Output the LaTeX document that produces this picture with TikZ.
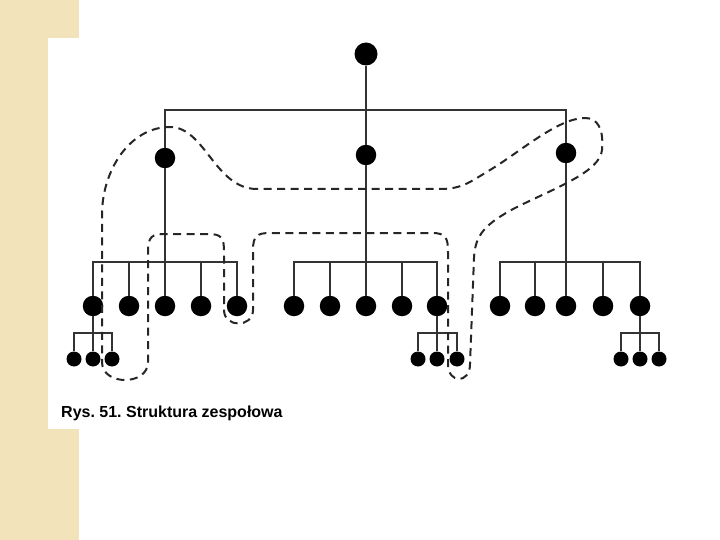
\documentclass[tikz,border=0pt]{standalone}
\usepackage{fontspec}
\setmainfont{Liberation Sans}
\frenchspacing
\begin{document}
\begin{tikzpicture}[x=1pt,y=-1pt,
  bigdot/.style={circle,fill=black,inner sep=0pt,minimum size=23pt},
  middot/.style={circle,fill=black,inner sep=0pt,minimum size=20.5pt},
  smalldot/.style={circle,fill=black,inner sep=0pt,minimum size=15pt},
  tree/.style={draw=black!80,line width=1.9pt},
  snake/.style={draw=black!85,line width=2pt,dash pattern=on 8pt off 5.5pt}]
\useasboundingbox (0,0) rectangle (720,540);
% background strip
\fill[color={rgb,255:red,243;green,227;blue,186}] (0,0) rectangle (79,540);
\fill[white] (48,38) rectangle (79,429);
% nodes
\node[bigdot] (r) at (366,54) {};
\node[middot] (a2) at (165,158) {};
\node[middot] (b2) at (366,155) {};
\node[middot] (c2) at (566,153) {};
\foreach \x [count=\i] in {93,129,165,201,237} \node[middot] (L\i) at (\x,306) {};
\foreach \x [count=\i] in {294,330,366,402,437} \node[middot] (M\i) at (\x,306) {};
\foreach \x [count=\i] in {500,535,566,603,640} \node[middot] (R\i) at (\x,306) {};
\foreach \x [count=\i] in {74,93,112} \node[smalldot] (gl\i) at (\x,359) {};
\foreach \x [count=\i] in {418,437,457} \node[smalldot] (gm\i) at (\x,359) {};
\foreach \x [count=\i] in {621,640,659} \node[smalldot] (gr\i) at (\x,359) {};
\coordinate (top) at (0,110);
\coordinate (bar) at (0,262);
\coordinate (gbar) at (0,333);
% tree lines
\draw[tree] (r) -- (b2);
\draw[tree] (a2) -- (a2 |- top) -- (c2 |- top) -- (c2);
\draw[tree] (a2) -- (L3);
\draw[tree] (b2) -- (M3);
\draw[tree] (c2) -- (R3);
\draw[tree] (L1) -- (L1 |- bar) -- (L5 |- bar) -- (L5);
\draw[tree] (L2) -- (L2 |- bar) (L4) -- (L4 |- bar);
\draw[tree] (M1) -- (M1 |- bar) -- (M5 |- bar) -- (M5);
\draw[tree] (M2) -- (M2 |- bar) (M4) -- (M4 |- bar);
\draw[tree] (R1) -- (R1 |- bar) -- (R5 |- bar) -- (R5);
\draw[tree] (R2) -- (R2 |- bar) (R4) -- (R4 |- bar);
\draw[tree] (L1) -- (gl2);
\draw[tree] (gl1) -- (gl1 |- gbar) -- (gl3 |- gbar) -- (gl3);
\draw[tree] (M5) -- (gm2);
\draw[tree] (gm1) -- (gm1 |- gbar) -- (gm3 |- gbar) -- (gm3);
\draw[tree] (R5) -- (gr2);
\draw[tree] (gr1) -- (gr1 |- gbar) -- (gr3 |- gbar) -- (gr3);
% dashed snake contour
\draw[snake] (257,189) .. controls (215,189) and (205,127) .. (170,127)
  .. controls (130,127) and (102,170) .. (102,215)
  -- (102,362) .. controls (102,386) and (148,386) .. (148,362)
  -- (148,252) .. controls (148,236) and (152,234) .. (166,234)
  -- (208,234) .. controls (222,234) and (224,238) .. (224,252)
  -- (224,310) .. controls (224,328) and (253,328) .. (253,310)
  -- (253,250) .. controls (253,236) and (257,233) .. (270,233)
  -- (432,233) .. controls (446,233) and (448,238) .. (448,252)
  -- (448,364) .. controls (448,384) and (470,384) .. (470,364)
  -- (474,258) .. controls (475,235) and (485,224) .. (515,208)
  .. controls (555,188) and (600,172) .. (602,150)
  .. controls (604,128) and (597,118) .. (585,118)
  .. controls (558,118) and (520,152) .. (490,170)
  .. controls (470,182) and (462,189) .. (440,189)
  -- cycle;
% caption
\node[anchor=base west,inner sep=0pt,font=\fontsize{16}{19}\selectfont\bfseries] (cap) at (61,417) {Rys. 51. Struktura zespołowa};
\end{tikzpicture}
\end{document}
